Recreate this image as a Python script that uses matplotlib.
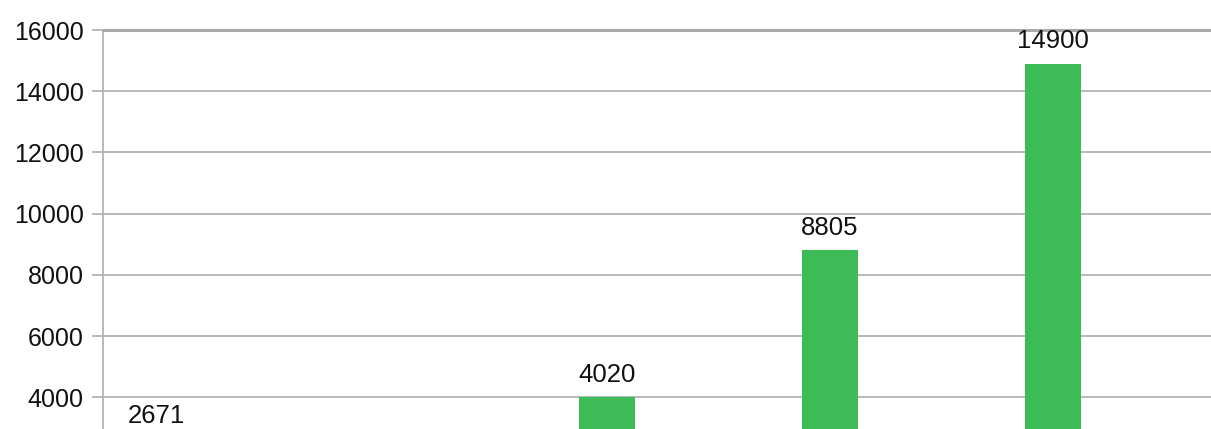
import numpy as np
import matplotlib.pyplot as plt

plt.rcParams['font.family'] = ['Liberation Sans', 'DejaVu Sans']

# Data (second slot has no visible bar)
positions = [0, 2, 3, 4]
values = [2671, 4020, 8805, 14900]
y_ticks = [4000, 6000, 8000, 10000, 12000, 14000, 16000]

bar_color = "#3dbb57"
grid_color = "#b3b3b3"
text_color = "#111111"
y_low, y_high = 2970, 16000

fig = plt.figure(figsize=(12.11, 4.29), dpi=100)
ax = fig.add_axes([103 / 1211, 0, 1 - 103 / 1211, 1 - 30 / 429])

ax.bar(positions, values, width=0.25, color=bar_color, zorder=2)

# Data labels above each bar; labels of clipped bars sit on the axis floor
for x, v in zip(positions, values):
    if v >= y_low:
        ax.annotate(str(v), (x, v), xytext=(0, 11), textcoords="offset points",
                    ha="center", va="baseline", fontsize=18.5, color=text_color,
                    annotation_clip=False)
    else:
        ax.annotate(str(v), (x - 0.02, y_low), xytext=(0, 4.5), textcoords="offset points",
                    ha="center", va="baseline", fontsize=18.5, color=text_color)

ax.set_xlim(-0.26, 4.71)
ax.set_ylim(y_low, y_high)
ax.set_yticks(y_ticks)
ax.set_yticklabels([str(t) for t in y_ticks], fontsize=18, color=text_color)
ax.set_xticks([])

ax.grid(axis="y", color=grid_color, linewidth=1.3, zorder=0)
ax.tick_params(axis="y", length=8, width=1.3, color=grid_color, pad=6)

for side in ["right", "bottom"]:
    ax.spines[side].set_visible(False)
ax.spines["left"].set_color(grid_color)
ax.spines["left"].set_linewidth(1.3)
ax.spines["top"].set_color("#aaaaaa")
ax.spines["top"].set_linewidth(2.2)

plt.savefig("out.png", dpi=100)
